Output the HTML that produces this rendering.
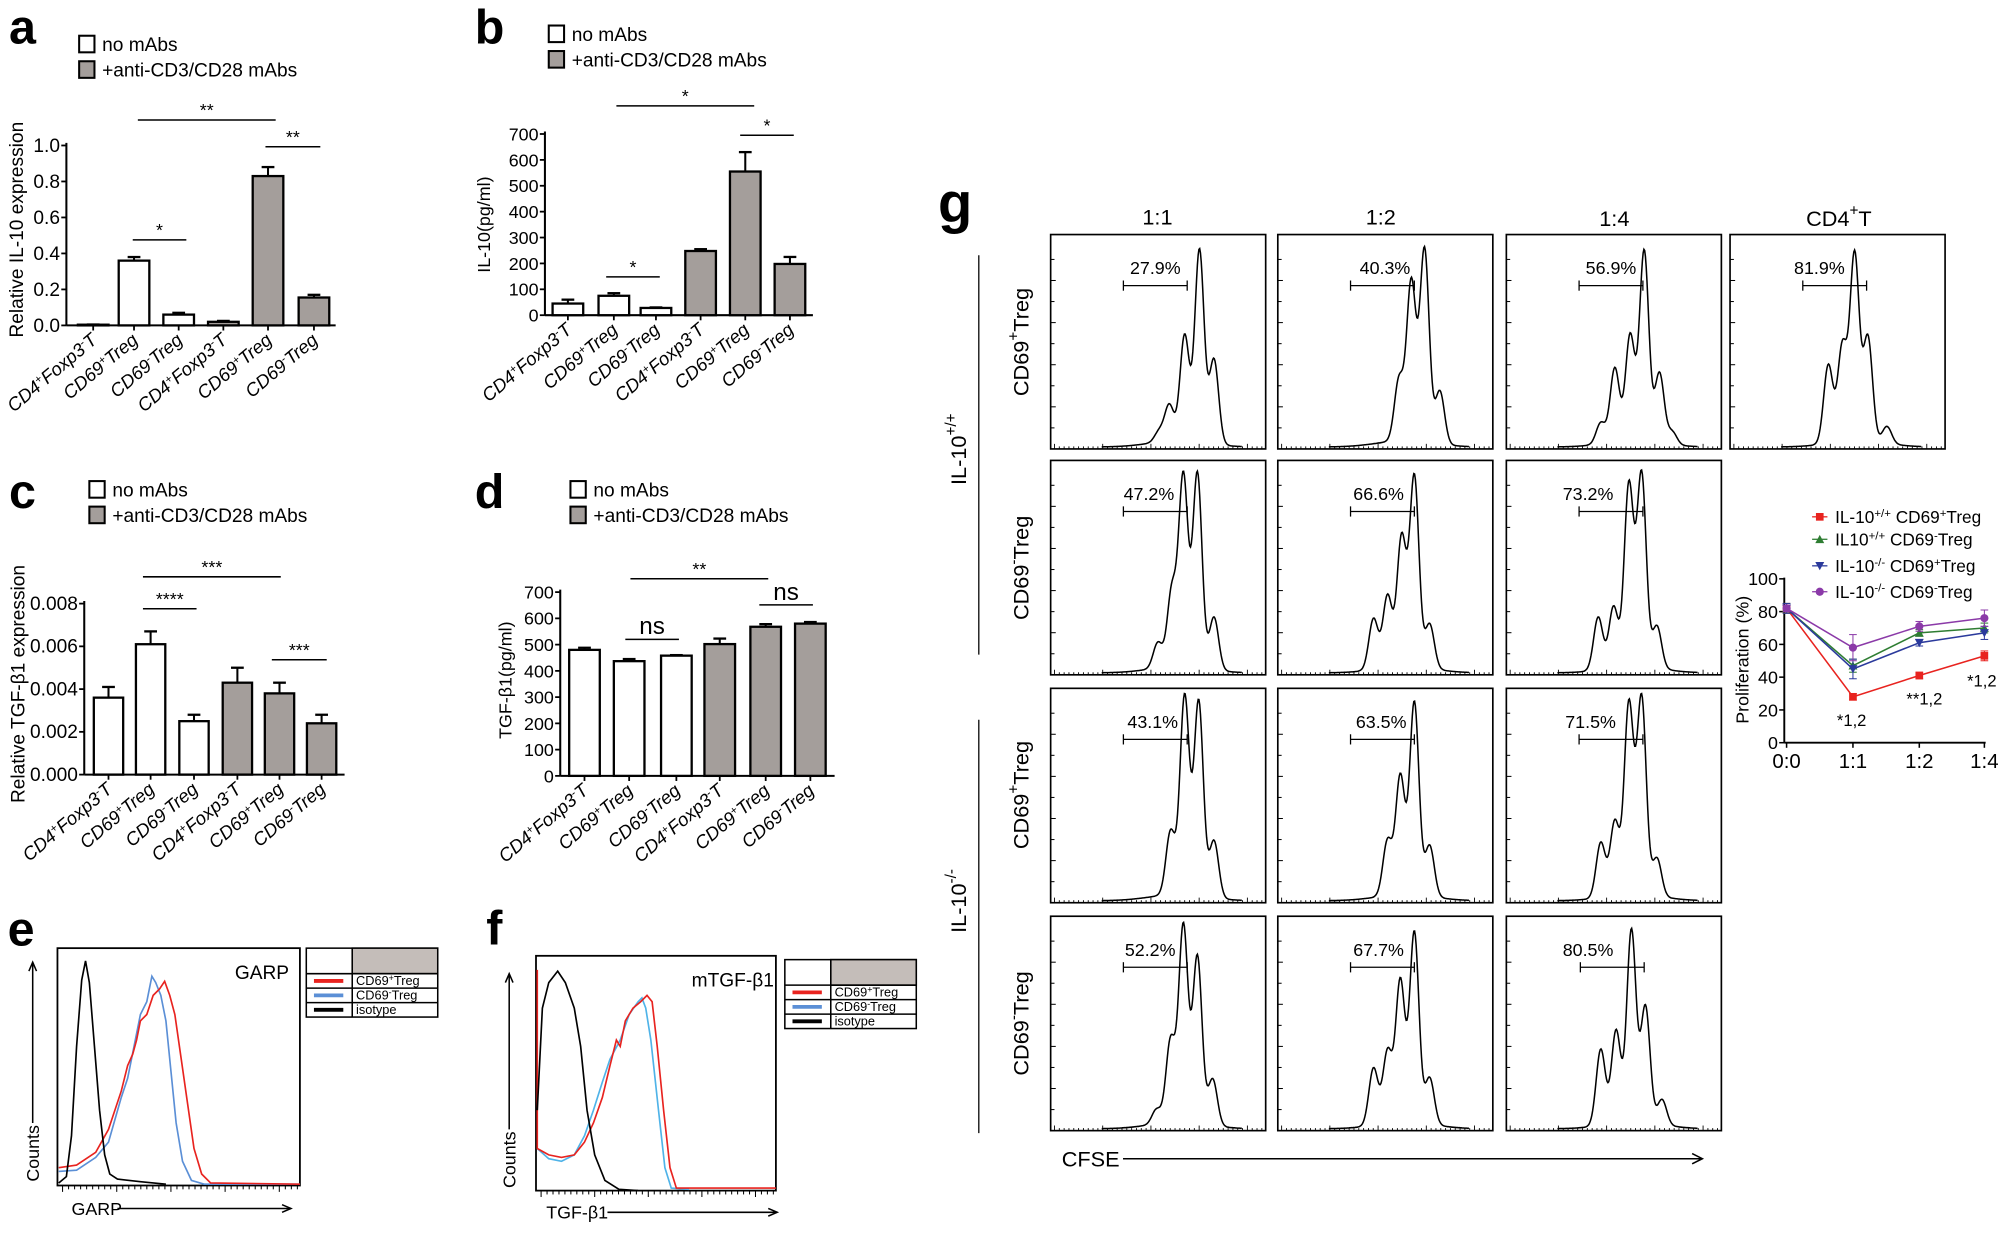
<!DOCTYPE html>
<html><head><meta charset="utf-8"><style>
html,body{margin:0;padding:0;background:#fff}
svg{display:block;font-family:"Liberation Sans",Arial,sans-serif}
.n{font-family:"Liberation Sans Narrow","Liberation Sans",sans-serif}
</style></head><body>
<svg id="s" xmlns="http://www.w3.org/2000/svg" width="2001" height="1234" viewBox="0 0 1568 967"></svg>
<script>
const S=document.getElementById('s');let h='';
function T(x,y,t,o={}){h+=`<text x="${x}" y="${y}" font-size="${o.s||15}" text-anchor="${o.a||'start'}" ${o.r!=null?`transform="rotate(${o.r} ${x} ${y})"`:''} ${o.c?`class="${o.c}"`:''} ${o.st||''} fill="${o.f||'#000'}">${t}</text>`;}
function L(x1,y1,x2,y2,w=1.3,c='#000'){h+=`<line x1="${x1}" y1="${y1}" x2="${x2}" y2="${y2}" stroke="${c}" stroke-width="${w}"/>`;}
function R(x,y,w,hh,f,sw=1.6,st='#000'){h+=`<rect x="${x}" y="${y}" width="${w}" height="${hh}" fill="${f}" stroke="${st}" stroke-width="${sw}"/>`;}
const G='#a49e9b';
function legend(x,y){R(x,y,12,13,'#fff',1.6);T(x+18,y+12,'no mAbs',{s:15,c:'n'});R(x,y+20,12,13,G,1.6);T(x+18,y+32,'+anti-CD3/CD28 mAbs',{s:15,c:'n'});}
function chart(c){
 const Y=v=>c.y0-(c.y0-c.yt)*v/c.vmax;
 L(c.ax,c.yt-2,c.ax,c.y0,1.6);L(c.ax,c.y0,c.xe,c.y0,1.6);
 c.ticks.forEach((t,i)=>{const y=Y(c.vmax*i/(c.ticks.length-1));L(c.ax-4,y,c.ax,y,1.4);T(c.ax-5,y+5,t,{a:'end',s:c.fs||15,c:'n'});});
 const labs=['CD4<tspan dy="-5" font-size="9">+</tspan><tspan dy="5">Foxp3</tspan><tspan dy="-5" font-size="9">-</tspan><tspan dy="5">T</tspan>','CD69<tspan dy="-5" font-size="9">+</tspan><tspan dy="5">Treg</tspan>','CD69<tspan dy="-5" font-size="9">-</tspan><tspan dy="5">Treg</tspan>'];
 c.bars.forEach((b,i)=>{const [cx,v,e]=b;const f=i<3?'#fff':G;const y=Y(v);
  L(cx,y,cx,Y(e),1.6);L(cx-5,Y(e),cx+5,Y(e),1.8);
  R(cx-c.bw/2,y,c.bw,c.y0-y,f,1.8);
  L(cx,c.y0,cx,c.y0+4,1.4);
  T(cx+4,c.y0+13,labs[i%3],{a:'end',r:-40,s:14.5,st:'font-style="italic"',c:'n'});
 });
 c.sig.forEach(s=>{L(s[0],s[2],s[1],s[2],1.2);T((s[0]+s[1])/2,s[2]-(s[4]?4:3),s[3],{a:'middle',s:s[4]||14,c:'n'});});
 T(c.lx,c.ly,c.ylab,{a:'middle',r:-90,s:c.ls||15});
}
// a
T(7,34,'a',{s:38,st:'font-weight="bold"'});legend(62,28);
chart({ax:52,y0:255,yt:114,vmax:1,xe:263,ticks:['0.0','0.2','0.4','0.6','0.8','1.0'],bw:24,
 bars:[[73,0.004,0.005],[105,0.36,0.38],[140,0.06,0.07],[175,0.02,0.025],[210,0.83,0.88],[246,0.155,0.17]],
 sig:[[108,216,94,'**'],[208,251,115,'**'],[104,146,188,'*']],ylab:'Relative IL-10 expression',lx:18,ly:180});
// b
T(372,34,'b',{s:38,st:'font-weight="bold"'});legend(430,20);
chart({ax:427,y0:247,yt:105,vmax:700,xe:637,ticks:['0','100','200','300','400','500','600','700'],bw:24,fs:14,
 bars:[[445,45,60],[481,75,85],[514,28,30],[549,248,255],[584,555,630],[619,198,225]],
 sig:[[483,591,83,'*'],[580,622,106,'*'],[475,517,217,'*']],ylab:'IL-10(pg/ml)',lx:384,ly:176,ls:14});
// c
T(7,398,'c',{s:38,st:'font-weight="bold"'});legend(70,377);
chart({ax:66,y0:607,yt:473,vmax:0.008,xe:270,ticks:['0.000','0.002','0.004','0.006','0.008'],bw:23,
 bars:[[85,.0036,.0041],[118,.0061,.0067],[152,.0025,.0028],[186,.0043,.005],[219,.0038,.0043],[252,.0024,.0028]],
 sig:[[112,220,452,'***'],[112,154,477,'****'],[213,256,517,'***']],ylab:'Relative TGF-β1 expression',lx:19,ly:536});
// d
T(372,398,'d',{s:38,st:'font-weight="bold"'});legend(447,377);
chart({ax:439,y0:608,yt:464,vmax:700,xe:654,ticks:['0','100','200','300','400','500','600','700'],bw:24,fs:14,
 bars:[[458,480,488],[493,437,445],[530,458,460],[564,502,523],[600,568,578],[635,580,586]],
 sig:[[494,602,453.5,'**'],[490,532,501,'ns',19],[595,637,474,'ns',19]],ylab:'TGF-β1(pg/ml)',lx:401,ly:533,ls:14});

// e / f flow panels
function pth(pts,col,w=1.3){h+=`<polyline fill="none" stroke="${col}" stroke-width="${w}" points="${pts.map(p=>p.join(',')).join(' ')}"/>`;}
function flowBox(x,y,w,hh,lx,ly,name,aY1,aY0,ax,xt,xtx,xta,xty,xw){
 R(x,y,w,hh,'#fff',1.4);
 for(let i=0;i<40;i++){const tx=x+4+i*(w-6)/39;L(tx,y+hh,tx,y+hh+(i%9==0?5:3),0.8);}
 T(lx,ly,name,{s:15,c:'n'});
 const ab=aY0-48;
 L(ax,ab,ax,aY1,1.2);h+=`<polyline points="${ax-3},${aY1+7} ${ax},${aY1} ${ax+3},${aY1+7}" fill="none" stroke="#000" stroke-width="1.2"/>`;
 T(ax+5,aY0-2,'Counts',{r:-90,s:14});
 T(xtx,xty,xt,{s:14,c:'n'});
 L(xtx+xw,xty-5,xta,xty-5,1.2);h+=`<polyline points="${xta-7},${xty-8} ${xta},${xty-5} ${xta-7},${xty-2}" fill="none" stroke="#000" stroke-width="1.2"/>`;
}
function ltab(x,y,rows){
 const w=103,hh=54;
 R(x,y,w,hh,'#fff',1.2);R(x+36,y,w-36,20,'#c4bdb9',1.2);L(x+36,y,x+36,y+hh,1.2);
 const rh=(hh-20)/3;['#e8231f','#5b8fd6','#000'].forEach((c,i)=>{const ry=y+20+i*rh;L(x,ry,x+w,ry,1.2);L(x+6,ry+rh/2,x+29,ry+rh/2,3,c);T(x+39,ry+rh-2.5,rows[i],{s:10,c:'n'});});
}
T(6,741,'e',{s:38,st:'font-weight="bold"'});
flowBox(45,743,190,186,184,767,'GARP',754,928,25.6,'GARP',56,228,952,36);
ltab(240,743,['CD69<tspan dy="-3" font-size="7">+</tspan><tspan dy="3">Treg</tspan>','CD69<tspan dy="-3" font-size="7">-</tspan><tspan dy="3">Treg</tspan>','isotype']);
pth([[46,918],[60,917],[75,907],[85,895],[95,860],[100,845],[106,815],[110,795],[115,785],[119,765],[122,770],[126,780],[130,800],[134,840],[138,880],[143,910],[150,925],[160,928],[235,928]],'#5b8fd6');
pth([[46,915],[60,913],[75,903],[85,885],[95,855],[100,835],[104,826],[107,815],[110,800],[115,795],[120,780],[125,775],[129,769],[133,780],[137,795],[142,830],[147,865],[152,900],[158,920],[165,927],[235,928]],'#e8231f');
pth([[46,927],[52,922],[56,890],[60,820],[64,768],[67,753],[70,770],[74,820],[78,870],[82,905],[86,920],[92,924],[110,926],[130,928]],'#000');
T(381,740,'f',{s:38,st:'font-weight="bold"'});
flowBox(420,749,188,184,542,773,'mTGF-β1',763,933,399,'TGF-β1',428,609,955,48);
ltab(615,752,['CD69<tspan dy="-3" font-size="7">+</tspan><tspan dy="3">Treg</tspan>','CD69<tspan dy="-3" font-size="7">-</tspan><tspan dy="3">Treg</tspan>','isotype']);
pth([[421,900],[430,908],[440,910],[450,905],[458,890],[465,870],[472,848],[478,830],[486,815],[493,795],[500,785],[503,782],[506,790],[510,815],[516,870],[521,915],[526,931],[540,932]],'#4fb3e8');
pth([[421,760],[421,900],[430,905],[440,907],[450,905],[458,895],[465,880],[472,860],[478,835],[483,815],[486,820],[490,800],[496,790],[502,785],[507,780],[511,785],[515,820],[520,870],[525,915],[530,931],[608,931]],'#e8231f');
pth([[421,870],[425,790],[430,770],[437,761],[443,770],[450,790],[455,820],[460,870],[466,905],[474,925],[485,932],[500,933]],'#000');

// g
T(735,174,'g',{s:44,st:'font-weight="bold"'});
const cols=[823.3,1001.3,1180.4,1355.7],rows=[183.8,360.8,539.4,718],W=168.5,H=168;
T(907,176,'1:1',{a:'middle',s:17});T(1082,176,'1:2',{a:'middle',s:17});T(1265,177,'1:4',{a:'middle',s:17});
T(1441,177,'CD4<tspan dy="-8" font-size="12">+</tspan><tspan dy="8">T</tspan>',{a:'middle',s:17});
const P={
'0,0':[[85,.05],[93,.17],[105,.5],[116.6,.91],[128,.4]],
'0,1':[[95,.29],[104.6,.75],[115,.91],[127,.25]],
'0,2':[[74,.1],[85,.35],[97,.5],[108,.9],[120,.33],[130,.06]],
'0,3':[[77,.37],[88,.45],[97.6,.88],[108,.49],[123,.08]],
'1,0':[[84,.12],[95,.36],[104,.9],[115,.92],[128,.25]],
'1,1':[[75,.24],[86,.34],[97,.61],[107,.9],[119,.21]],
'1,2':[[72,.25],[84,.29],[96,.86],[106,.91],[118,.2]],
'2,0':[[94,.3],[105,.94],[116,.92],[128,.27]],
'2,1':[[86,.26],[96,.56],[107,.91],[119,.24]],
'2,2':[[74,.26],[85,.35],[96,.9],[106,.93],[118,.18]],
'3,0':[[83,.07],[94,.39],[104,.93],[115,.79],[127,.22]],
'3,1':[[75,.27],[86,.34],[96,.67],[107,.9],[119,.22]],
'3,2':[[74,.36],[86,.44],[98,.91],[109,.55],[122,.12]]};
const PC={'0,0':['27.9%',82],'0,1':['40.3%',84],'0,2':['56.9%',82],'0,3':['81.9%',70],'1,0':['47.2%',77],'1,1':['66.6%',79],'1,2':['73.2%',64],'2,0':['43.1%',80],'2,1':['63.5%',81],'2,2':['71.5%',66],'3,0':['52.2%',78],'3,1':['67.7%',79],'3,2':['80.5%',64]};
for(const k in P){const [r,c]=k.split(',').map(Number);const x=cols[c],y=rows[r];
 R(x,y,W,H,'#fff',1.3);
 for(let i=1;i<10;i++){const ty=y+H-i*16.5;L(x,ty,x+(i%2?3:4),ty,0.8);}
 for(let i=0;i<44;i++){const tx=x+3+i*(W-6)/43;L(tx,y+H,tx,y+H-(i%10==0?4:2),0.7);}
 const pk=P[k];const pts=[];const base=y+H-1.5;
 for(let o=40;o<=150;o+=0.6){let v=0;pk.forEach(p=>{v+=p[1]*Math.exp(-((o-p[0])**2)/(2*3.6*3.6));});
  v+=0.03*Math.exp(-((o-100)**2)/(2*22*22));
  pts.push([ (x+o).toFixed(1),(base-v*(H-2)).toFixed(1)]);}
 pth(pts,'#000',1.2);
 const gl=(k=='3,2')?58:57;L(x+gl,y+40,x+gl+50,y+40,1);L(x+gl,y+36,x+gl,y+44,1);L(x+gl+50,y+36,x+gl+50,y+44,1);
 T(x+PC[k][1],y+31,PC[k][0],{a:'middle',s:14});
}
// row labels
function rl(cx,cy,sign){T(cx,cy,'CD69<tspan dy="-8" font-size="12">'+sign+'</tspan><tspan dy="8">Treg</tspan>',{a:'middle',r:-90,s:17});}
rl(806,268,'+');rl(806,445,'-');rl(806,623,'+');rl(806,802,'-');
L(767,200,767,513,1);L(767,564,767,888,1);
T(757,352,'IL-10<tspan dy="-8" font-size="12">+/+</tspan>',{a:'middle',r:-90,s:17});
T(757,706,'IL-10<tspan dy="-8" font-size="12">-/-</tspan>',{a:'middle',r:-90,s:17});
T(832,914,'CFSE',{s:17});L(880,908,1334,908,1.2);h+=`<polyline points="1326,904 1334,908 1326,912" fill="none" stroke="#000" stroke-width="1.2"/>`;

// line chart
const lx0=1398.2,ly0=582,lyt=453.6;const LY=v=>ly0-(ly0-lyt)*v/100;const XS=[1400,1452,1504,1555];
L(lx0,lyt-1,lx0,ly0,1.5);L(lx0,ly0,1556,ly0,1.5);
[0,20,40,60,80,100].forEach(v=>{L(lx0-4,LY(v),lx0,LY(v),1.2);T(lx0-5,LY(v)+5,v,{a:'end',s:14});});
['0:0','1:1','1:2','1:4'].forEach((t,i)=>{L(XS[i],ly0,XS[i],ly0+4,1.2);T(XS[i],ly0+20,t,{a:'middle',s:16});});
T(1370,517,'Proliferation (%)',{a:'middle',r:-90,s:14});
const ser=[['#e8231f',[82,28,41,53],'s',[3,2,2,3]],['#2e7d32',[82,47,67,70],'tu',[3,4,2,3]],['#2b3a9c',[82,45,61,67],'td',[3,6,2,4]],['#8b3aa8',[82,58,71,76],'c',[2,8,3,5]]];
function mk(x,y,t,c){if(t=='s')h+=`<rect x="${x-3}" y="${y-3}" width="6" height="6" fill="${c}"/>`;else if(t=='c')h+=`<circle cx="${x}" cy="${y}" r="3.2" fill="${c}"/>`;else if(t=='tu')h+=`<polygon points="${x},${y-3.5} ${x+3.5},${y+3} ${x-3.5},${y+3}" fill="${c}"/>`;else h+=`<polygon points="${x},${y+3.5} ${x+3.5},${y-3} ${x-3.5},${y-3}" fill="${c}"/>`;}
ser.forEach(s=>{pth(s[1].map((v,i)=>[XS[i],LY(v)]),s[0],1.2);s[1].forEach((v,i)=>{const e=s[3][i]*1.28;L(XS[i],LY(v)-e,XS[i],LY(v)+e,0.8,s[0]);L(XS[i]-3,LY(v)-e,XS[i]+3,LY(v)-e,0.8,s[0]);L(XS[i]-3,LY(v)+e,XS[i]+3,LY(v)+e,0.8,s[0]);mk(XS[i],LY(v),s[2],s[0]);});});
T(1451,569,'*1,2',{a:'middle',s:13});T(1508,552,'**1,2',{a:'middle',s:13});T(1553,538,'*1,2',{a:'middle',s:13});
const lg=[['IL-10<tspan dy="-5" font-size="9">+/+</tspan><tspan dy="5"> CD69</tspan><tspan dy="-5" font-size="9">+</tspan><tspan dy="5">Treg</tspan>',405],
['IL10<tspan dy="-5" font-size="9">+/+</tspan><tspan dy="5"> CD69</tspan><tspan dy="-5" font-size="9">-</tspan><tspan dy="5">Treg</tspan>',422.6],
['IL-10<tspan dy="-5" font-size="9">-/-</tspan><tspan dy="5"> CD69</tspan><tspan dy="-5" font-size="9">+</tspan><tspan dy="5">Treg</tspan>',443.4],
['IL-10<tspan dy="-5" font-size="9">-/-</tspan><tspan dy="5"> CD69</tspan><tspan dy="-5" font-size="9">-</tspan><tspan dy="5">Treg</tspan>',463.7]];
lg.forEach((l,i)=>{const c=ser[i][0];L(1420,l[1],1432,l[1],1,c);mk(1426,l[1],ser[i][2],c);T(1438,l[1]+5,l[0],{s:13.5});});
S.innerHTML=h;
</script>
</body></html>
